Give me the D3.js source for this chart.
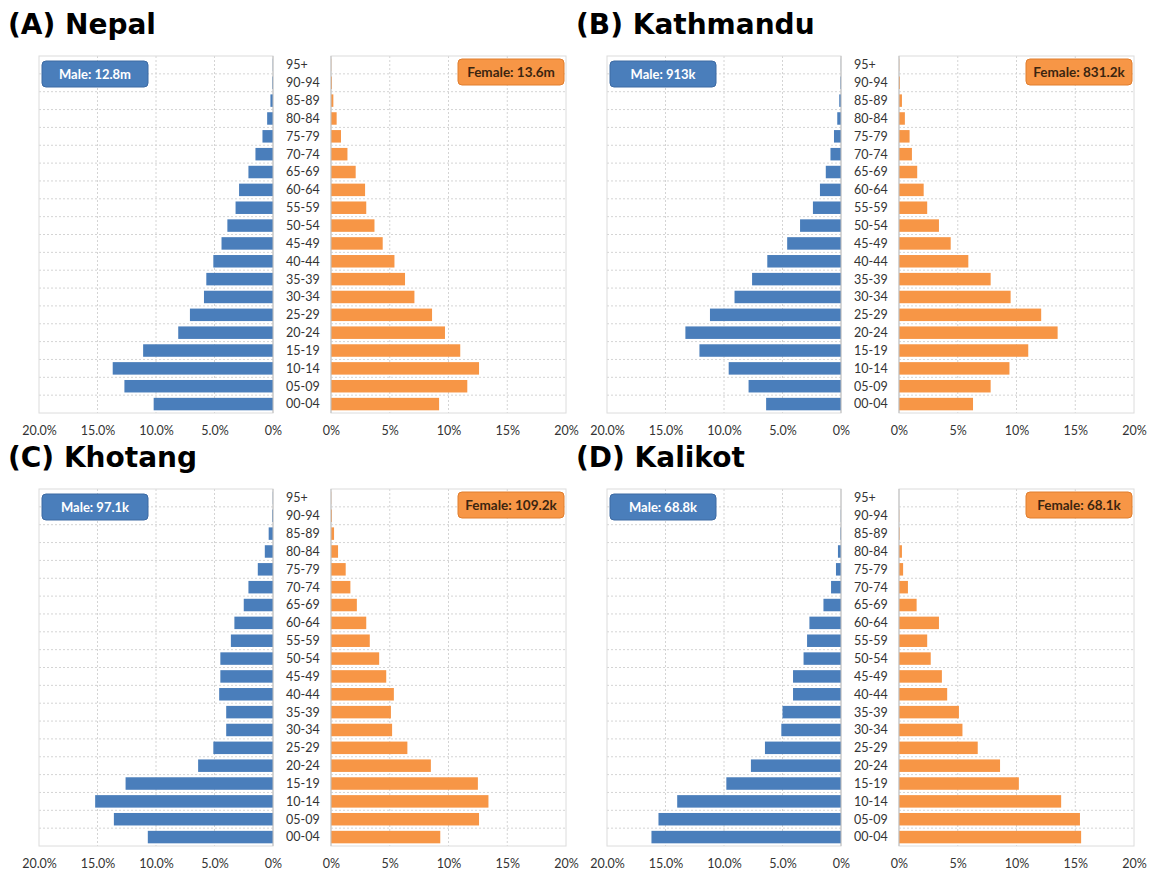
<!DOCTYPE html>
<html>
<head>
<meta charset="utf-8">
<script src="https://cdn.jsdelivr.net/npm/d3@7"></script>
<style>
  html, body { margin: 0; padding: 0; background: #fff; }
  svg { display: block; font-family: Lato, "Open Sans", sans-serif; }
</style>
</head>
<body>
<svg id="chart" width="1150" height="872"></svg>
<script>
// Age groups, youngest first
const ageGroups = ["00-04","05-09","10-14","15-19","20-24","25-29","30-34","35-39","40-44","45-49",
                   "50-54","55-59","60-64","65-69","70-74","75-79","80-84","85-89","90-94","95+"];

// Share of each sex's population by age group (%)
const nepalMale     = [10.2,12.7,13.7,11.1,8.1,7.1,5.9,5.7,5.1,4.4,3.9,3.2,2.9,2.1,1.5,0.9,0.5,0.22,0.06,0.02];
const nepalFemale   = [9.2,11.6,12.6,11.0,9.7,8.6,7.1,6.3,5.4,4.4,3.7,3.0,2.9,2.1,1.4,0.85,0.48,0.2,0.08,0.02];
const kathmanduMale   = [6.4,7.9,9.6,12.1,13.3,11.2,9.1,7.6,6.3,4.6,3.5,2.4,1.8,1.3,0.9,0.6,0.32,0.15,0.05,0.01];
const kathmanduFemale = [6.3,7.8,9.4,11.0,13.5,12.1,9.5,7.8,5.9,4.4,3.4,2.4,2.1,1.55,1.1,0.9,0.5,0.25,0.08,0.02];
const khotangMale   = [10.7,13.6,15.2,12.6,6.4,5.1,4.0,4.0,4.6,4.5,4.5,3.6,3.3,2.5,2.1,1.3,0.7,0.37,0.07,0.02];
const khotangFemale = [9.3,12.6,13.4,12.5,8.5,6.5,5.2,5.1,5.35,4.7,4.1,3.3,3.0,2.2,1.65,1.25,0.6,0.26,0.08,0.02];
const kalikotMale   = [16.2,15.6,14.0,9.8,7.7,6.5,5.1,5.0,4.1,4.1,3.2,2.9,2.7,1.5,0.85,0.43,0.26,0.05,0.02,0.0];
const kalikotFemale = [15.5,15.4,13.8,10.2,8.6,6.7,5.4,5.1,4.1,3.65,2.7,2.4,3.4,1.5,0.76,0.35,0.25,0.05,0.02,0.0];

// Panel titles and population totals
const panelTitles  = ["(A) Nepal", "(B) Kathmandu", "(C) Khotang", "(D) Kalikot"];
const maleTotals   = ["Male: 12.8m", "Male: 913k", "Male: 97.1k", "Male: 68.8k"];
const femaleTotals = ["Female: 13.6m", "Female: 831.2k", "Female: 109.2k", "Female: 68.1k"];

// Tick values and their labels
const tickValues      = [0, 5, 10, 15, 20];
const maleTickLabels  = ["0%", "5.0%", "10.0%", "15.0%", "20.0%"];
const femaleTickLabels= ["0%", "5%", "10%", "15%", "20%"];

const panels = [
  { male: nepalMale,     female: nepalFemale,     dx: 0,   dy: 0 },
  { male: kathmanduMale, female: kathmanduFemale, dx: 568, dy: 0 },
  { male: khotangMale,   female: khotangFemale,   dx: 0,   dy: 433 },
  { male: kalikotMale,   female: kalikotFemale,   dx: 568, dy: 433 }
];

const BLUE = "#4a7ebb";
const ORANGE = "#f79646";
const GRID = "#d4d4d4";

const svg = d3.select("#chart");

// geometry shared by all panels (panel-local coordinates)
const plotTop = 56, plotBottom = 413;
const leftX0 = 273, leftX1 = 39;     // male: 0% at right, 20% at left
const rightX0 = 331, rightX1 = 566;  // female: 0% at left, 20% at right

const y = d3.scaleBand()
  .domain(ageGroups.slice().reverse())
  .range([plotTop, plotBottom])
  .paddingInner(0.3)
  .paddingOuter(0.15);

const xMale = d3.scaleLinear().domain([0, 20]).range([leftX0, leftX1]);
const xFemale = d3.scaleLinear().domain([0, 20]).range([rightX0, rightX1]);

panels.forEach((p, i) => {
  const g = svg.append("g").attr("transform", `translate(${p.dx},${p.dy})`);

  // title
  g.append("text")
    .attr("x", 8).attr("y", 34)
    .attr("font-family", "'DejaVu Sans', sans-serif")
    .attr("font-size", 28).attr("font-weight", 700).attr("fill", "#000")
    .text(panelTitles[i]);

  const sides = [
    { x: xMale, x0: leftX1, x1: leftX0, data: p.male, color: BLUE, labels: maleTickLabels },
    { x: xFemale, x0: rightX0, x1: rightX1, data: p.female, color: ORANGE, labels: femaleTickLabels }
  ];

  sides.forEach(s => {
    const pg = g.append("g");
    // horizontal grid between age rows
    const rowLines = d3.range(1, ageGroups.length)
      .map(k => plotTop + (plotBottom - plotTop) * k / ageGroups.length);
    pg.selectAll("line.h").data(rowLines).join("line")
      .attr("class", "h")
      .attr("x1", s.x0).attr("x2", s.x1)
      .attr("y1", d => d).attr("y2", d => d)
      .attr("stroke", GRID).attr("stroke-width", 1).attr("stroke-dasharray", "2,2");
    // vertical grid at tick values
    pg.selectAll("line.v").data(tickValues.slice(1, -1)).join("line")
      .attr("class", "v")
      .attr("x1", d => s.x(d)).attr("x2", d => s.x(d))
      .attr("y1", plotTop).attr("y2", plotBottom)
      .attr("stroke", GRID).attr("stroke-width", 1).attr("stroke-dasharray", "2,2");
    // frame
    pg.append("rect")
      .attr("x", s.x0).attr("y", plotTop)
      .attr("width", s.x1 - s.x0).attr("height", plotBottom - plotTop)
      .attr("fill", "none").attr("stroke", "#dcdcdc").attr("stroke-width", 1);

    // bars
    pg.selectAll("rect.bar").data(ageGroups.map((a, k) => ({ age: a, v: s.data[k] })))
      .join("rect")
      .attr("class", "bar")
      .attr("x", d => Math.min(s.x(0), s.x(d.v)))
      .attr("width", d => Math.abs(s.x(d.v) - s.x(0)))
      .attr("y", d => y(d.age))
      .attr("height", y.bandwidth())
      .attr("fill", s.color);

    // zero line
    pg.append("line")
      .attr("x1", s.x(0)).attr("x2", s.x(0))
      .attr("y1", plotTop).attr("y2", plotBottom)
      .attr("stroke", "#bfbfbf").attr("stroke-width", 1);

    // bottom axis
    const axis = d3.axisBottom(s.x)
      .tickValues(tickValues)
      .tickFormat((d, k) => s.labels[k])
      .tickSize(0).tickPadding(0);
    const ag = pg.append("g").attr("transform", `translate(0,${plotBottom + 13})`).call(axis);
    ag.select(".domain").remove();
    ag.selectAll("text")
      .attr("font-family", "Lato, 'Open Sans', sans-serif")
      .attr("font-size", 12.5).attr("fill", "#333");
  });

  // age labels between the two halves
  g.selectAll("text.age").data(ageGroups).join("text")
    .attr("class", "age")
    .attr("x", 286)
    .attr("y", d => y(d) + y.bandwidth() / 2)
    .attr("dy", "0.35em")
    .attr("font-size", 12.5).attr("fill", "#333")
    .text(d => d);

  // totals badges
  const mb = g.append("g").attr("transform", `translate(${leftX1 + 3},${plotTop + 5})`);
  mb.append("rect").attr("width", 106).attr("height", 26).attr("rx", 4)
    .attr("fill", BLUE).attr("stroke", "#3c6aa3").attr("stroke-width", 1);
  mb.append("text").attr("x", 53).attr("y", 13).attr("dy", "0.35em")
    .attr("text-anchor", "middle").attr("font-size", 13).attr("font-weight", 700)
    .attr("fill", "#fff").text(maleTotals[i]);

  const fb = g.append("g").attr("transform", `translate(${rightX1 - 108},${plotTop + 3})`);
  fb.append("rect").attr("width", 106).attr("height", 26).attr("rx", 4)
    .attr("fill", ORANGE).attr("stroke", "#e07e2e").attr("stroke-width", 1);
  fb.append("text").attr("x", 53).attr("y", 13).attr("dy", "0.35em")
    .attr("text-anchor", "middle").attr("font-size", 13.5).attr("font-weight", 700)
    .attr("fill", "#3b2510").text(femaleTotals[i]);
});
</script>
</body>
</html>
